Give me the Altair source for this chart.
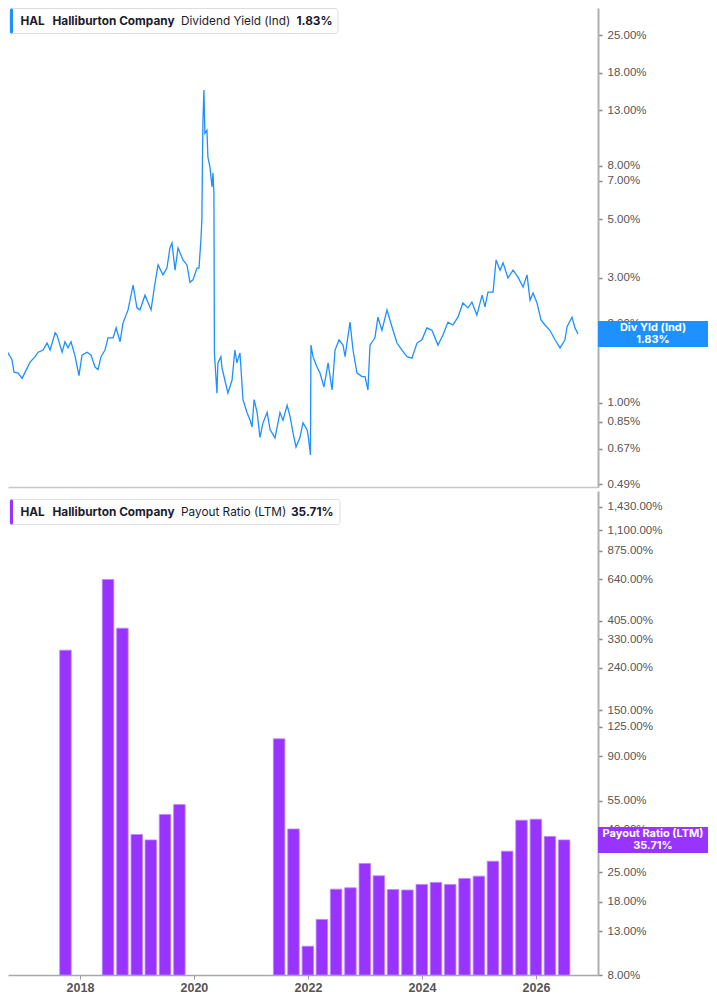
import altair as alt
import pandas as pd

# ---------------- data ----------------
# Dividend yield (Ind), decimal year -> percent
dy_years = [2016.690, 2016.741, 2016.810, 2016.828, 2016.897, 2016.931, 2017.000, 2017.069, 2017.121, 2017.207,
            2017.293, 2017.345, 2017.431, 2017.500, 2017.552, 2017.638, 2017.672, 2017.759, 2017.810, 2017.862,
            2017.914, 2017.983, 2018.052, 2018.103, 2018.190, 2018.259, 2018.328, 2018.379, 2018.431, 2018.500,
            2018.552, 2018.638, 2018.690, 2018.759, 2018.810, 2018.897, 2018.983, 2019.052, 2019.103, 2019.190,
            2019.293, 2019.362, 2019.414, 2019.500, 2019.569, 2019.621, 2019.655, 2019.707, 2019.759, 2019.845,
            2019.914, 2019.966, 2020.017, 2020.086, 2020.121, 2020.155, 2020.172, 2020.181, 2020.190, 2020.207,
            2020.224, 2020.259, 2020.276, 2020.310, 2020.345, 2020.362, 2020.379, 2020.388, 2020.431, 2020.448,
            2020.500, 2020.517, 2020.569, 2020.621, 2020.690, 2020.741, 2020.776, 2020.828, 2020.879, 2020.948,
            2021.000, 2021.034, 2021.069, 2021.121, 2021.172, 2021.224, 2021.293, 2021.345, 2021.431, 2021.517,
            2021.569, 2021.638, 2021.690, 2021.741, 2021.793, 2021.862, 2021.914, 2021.983, 2022.000, 2022.043,
            2022.052, 2022.086, 2022.155, 2022.207, 2022.276, 2022.345, 2022.414, 2022.466, 2022.534, 2022.603,
            2022.638, 2022.724, 2022.776, 2022.845, 2022.931, 2022.983, 2023.034, 2023.069, 2023.155, 2023.207,
            2023.276, 2023.362, 2023.448, 2023.534, 2023.621, 2023.707, 2023.793, 2023.879, 2023.966, 2024.052,
            2024.138, 2024.241, 2024.328, 2024.414, 2024.500, 2024.586, 2024.672, 2024.759, 2024.828, 2024.914,
            2025.000, 2025.052, 2025.103, 2025.190, 2025.241, 2025.310, 2025.362, 2025.448, 2025.534, 2025.621,
            2025.707, 2025.776, 2025.828, 2025.879, 2025.948, 2026.017, 2026.086, 2026.172, 2026.259, 2026.345,
            2026.431, 2026.466, 2026.552, 2026.603, 2026.655]
dy_values = [1.74, 1.62, 1.50, 1.55, 1.46, 1.31, 1.30, 1.24, 1.31, 1.43,
             1.50, 1.56, 1.59, 1.69, 1.59, 1.85, 1.81, 1.56, 1.71, 1.62,
             1.71, 1.50, 1.27, 1.52, 1.56, 1.52, 1.37, 1.34, 1.50, 1.59,
             1.77, 1.77, 1.93, 1.71, 2.01, 2.26, 2.81, 2.30, 2.26, 2.57,
             2.26, 2.86, 3.35, 3.07, 3.26, 3.89, 4.06, 3.20, 3.89, 3.50,
             3.35, 2.88, 2.94, 3.26, 3.26, 4.17, 4.96, 8.62, 11.9, 15.5,
             10.6, 10.9, 8.62, 7.89, 6.63, 7.49, 6.29, 1.55, 1.09, 1.42,
             1.50, 1.37, 1.22, 1.09, 1.22, 1.59, 1.42, 1.55, 1.03, 0.92,
             0.86, 0.81, 1.03, 0.92, 0.74, 0.84, 0.92, 0.79, 0.736, 0.92,
             0.86, 0.98, 0.885, 0.77, 0.68, 0.74, 0.84, 0.79, 0.755, 0.634,
             1.66, 1.50, 1.37, 1.30, 1.15, 1.42, 1.12, 1.59, 1.74, 1.66,
             1.50, 2.03, 1.59, 1.30, 1.26, 1.26, 1.12, 1.66, 1.77, 2.12,
             1.89, 2.26, 1.95, 1.69, 1.59, 1.50, 1.48, 1.69, 1.74, 1.93,
             1.89, 1.66, 1.81, 2.03, 1.98, 2.12, 2.40, 2.30, 2.42, 2.16,
             2.57, 2.32, 2.64, 2.64, 3.50, 3.20, 3.41, 2.99, 3.20, 3.01,
             2.76, 3.07, 2.46, 2.62, 2.40, 2.07, 1.98, 1.89, 1.74, 1.62,
             1.74, 1.95, 2.12, 1.93, 1.83]

# Payout ratio (LTM), quarter end -> percent
payout_dates = ["2017-09-30", "2018-06-30", "2018-09-30", "2018-12-31", "2019-03-31", "2019-06-30",
                "2019-09-30", "2021-06-30", "2021-09-30", "2021-12-31", "2022-03-31", "2022-06-30",
                "2022-09-30", "2022-12-31", "2023-03-31", "2023-06-30", "2023-09-30", "2023-12-31",
                "2024-03-31", "2024-06-30", "2024-09-30", "2024-12-31", "2025-03-31", "2025-06-30",
                "2025-09-30", "2025-12-31", "2026-03-31", "2026-06-30"]
payout_values = [291.7, 638.0, 372.0, 37.9, 35.7, 47.3,
                 52.8, 109.3, 40.3, 11.0, 14.8, 20.7,
                 21.0, 27.5, 24.0, 20.6, 20.5, 21.8,
                 22.3, 21.8, 23.3, 23.9, 28.2, 31.5,
                 44.4, 44.9, 37.1, 35.71]

yield_ticks = [0.49, 0.67, 0.85, 1, 2, 3, 5, 7, 8, 13, 18, 25]
payout_ticks = [8, 13, 18, 25, 40, 55, 90, 125, 150, 240, 330, 405, 640, 875, 1100, 1430]
year_ticks = [2018, 2020, 2022, 2024, 2026]

ticker = "HAL"
company = "Halliburton Company"
top_metric = "Dividend Yield (Ind)"
top_short = "Div Yld (Ind)"
bottom_metric = "Payout Ratio (LTM)"

# ---------------- build tables ----------------
def to_date(yr):
    y = int(yr)
    return pd.Timestamp(y, 1, 1) + pd.Timedelta(days=(yr - y) * 365.25)

line_df = pd.DataFrame({"date": [to_date(v).strftime("%Y-%m-%d") for v in dy_years], "value": dy_values})
bar_df = pd.DataFrame({"date": payout_dates, "value": payout_values})
one = pd.DataFrame({"k": [0]})

last_yield = dy_values[-1]
last_payout = payout_values[-1]

BLUE = "#1e90ff"
PURPLE = "#9933ff"
W = 590
H1 = 479
H2 = 484
BOX_W = 110
FONT = "Inter"
AXFONT = "Liberation Sans"

x_dom = [alt.DateTime(year=2016, month=10, date=29), alt.DateTime(year=2027, month=1, date=1)]
pct_expr = "format(datum.value, ',.2f') + '%'"


def y_axis(ticks):
    return alt.Axis(orient="right", values=ticks, labelExpr=pct_expr, title=None, grid=False,
                    domainColor="#b0b0b0", domainWidth=2, tickColor="#888888", tickSize=4, tickWidth=1.5,
                    labelColor="#555555", labelFontSize=11.5, labelFont=AXFONT, labelPadding=5,
                    labelOverlap=False)


def legend_layers(metric, value_txt, color, box_right, metric_x, value_x, cy):
    box = alt.Chart(one).mark_rect(fill="white", stroke="#dddddd", strokeWidth=1, cornerRadius=3).encode(
        x=alt.value(2), x2=alt.value(box_right), y=alt.value(cy - 12.5), y2=alt.value(cy + 12.5))
    stripe = alt.Chart(one).mark_rect(fill=color, cornerRadius=1.5).encode(
        x=alt.value(2), x2=alt.value(5), y=alt.value(cy - 12.5), y2=alt.value(cy + 12.5))
    parts = [(ticker, 12.5, "bold"), (company, 44.5, "bold"), (metric, metric_x, "normal"),
             (value_txt, value_x, "bold")]
    texts = [alt.Chart(one).mark_text(align="left", baseline="middle", font=FONT, fontSize=11.8,
                                      fontWeight=fw, color="#1b1b2b").encode(
        x=alt.value(px), y=alt.value(cy), text=alt.value(t)) for t, px, fw in parts]
    return [box, stripe] + texts


def value_box(val, label, color, yenc_scale):
    tick = alt.Chart(one).mark_tick(orient="horizontal", size=BOX_W, thickness=26, color=color,
                                    opacity=1).encode(
        x=alt.value(W + BOX_W / 2), y=alt.datum(val, scale=yenc_scale))
    t1 = alt.Chart(one).mark_text(align="center", baseline="middle", font=FONT, fontSize=11,
                                  fontWeight="bold", color="white", dy=-6).encode(
        x=alt.value(W + BOX_W / 2), y=alt.datum(val), text=alt.value(label))
    t2 = alt.Chart(one).mark_text(align="center", baseline="middle", font=FONT, fontSize=11,
                                  fontWeight="bold", color="white", dy=6).encode(
        x=alt.value(W + BOX_W / 2), y=alt.datum(val), text=alt.value(f"{val:.2f}%"))
    return [tick, t1, t2]


# ---------------- top panel ----------------
top_yscale = alt.Scale(type="log", domain=[0.479, 31.8], nice=False)
line = alt.Chart(line_df).mark_line(color=BLUE, strokeWidth=1.3, clip=True).encode(
    x=alt.X("date:T", scale=alt.Scale(domain=x_dom),
            axis=alt.Axis(title=None, labels=False, ticks=False, grid=False,
                          domainColor="#c8c8c8", domainWidth=1.5)),
    y=alt.Y("value:Q", scale=top_yscale, axis=y_axis(yield_ticks)))

top = alt.layer(line,
                *value_box(last_yield, top_short, BLUE, top_yscale),
                *legend_layers(top_metric, f"{last_yield:.2f}%", BLUE, 330, 173, 288.5, 13)
                ).properties(width=W, height=H1)

# ---------------- bottom panel ----------------
bot_yscale = alt.Scale(type="log", domain=[8, 1700], nice=False)
bars = alt.Chart(bar_df).mark_bar(size=11.5, color=PURPLE, stroke="#bb88ff", strokeWidth=0.8,
                                  clip=True).encode(
    x=alt.X("date:T", scale=alt.Scale(domain=x_dom),
            axis=alt.Axis(title=None, values=[alt.DateTime(year=y, month=1, date=1) for y in year_ticks],
                          format="%Y", grid=False, domainColor="#a8a8a8", domainWidth=1.5,
                          tickColor="#999999", tickSize=4, labelColor="#555555", labelFontSize=12.5,
                          labelFont=AXFONT, labelFontWeight="bold", labelPadding=2)),
    y=alt.Y("value:Q", scale=bot_yscale, axis=y_axis(payout_ticks)),
    y2=alt.datum(8))

bottom = alt.layer(bars,
                   *value_box(last_payout, bottom_metric, PURPLE, bot_yscale),
                   *legend_layers(bottom_metric, f"{last_payout:.2f}%", PURPLE, 332, 173, 283, 21)
                   ).properties(width=W, height=H2)

chart = alt.vconcat(top, bottom, spacing=1).properties(padding=0, background="white").configure_view(
    stroke=None)

chart.save("out.html", embed_options={"renderer": "svg", "actions": False})
